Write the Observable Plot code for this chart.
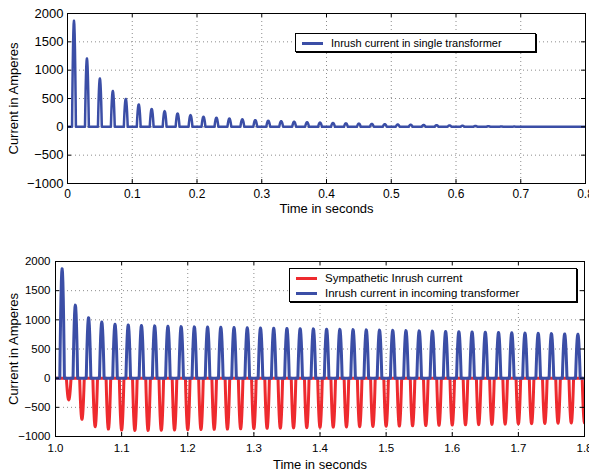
<!DOCTYPE html>
<html><head><meta charset="utf-8">
<script src="https://cdn.jsdelivr.net/npm/d3@7"></script>
<script src="https://cdn.jsdelivr.net/npm/@observablehq/plot@0.6"></script>
<style>
body{margin:0;background:#fff;font-family:"Liberation Sans",Arial,sans-serif;}
#wrap{position:relative;width:589px;height:476px;overflow:hidden;background:#fff;}
#top{position:absolute;left:0;top:0;}
#bot{position:absolute;left:0;top:248px;}
.legend{position:absolute;background:#fff;border:1px solid #000;box-shadow:1px 1px 0 #000;color:#000;box-sizing:border-box;}
.row{position:absolute;left:0;right:0;display:flex;align-items:center;height:14px;white-space:nowrap;}
.sw{display:inline-block;width:21px;height:3px;margin-left:6px;margin-right:8px;}
</style></head>
<body>
<div id="wrap">
  <div id="top"></div>
  <div id="bot"></div>
  <div class="legend" id="lg1" style="left:295px;top:33px;width:241px;height:19px;font-size:11px;">
    <div class="row" style="top:2px;"><span class="sw" style="background:#3b4ea6"></span><span>Inrush current in single transformer</span></div>
  </div>
  <div class="legend" id="lg2" style="left:289px;top:268px;width:288px;height:34px;font-size:11.5px;">
    <div class="row" style="top:2px;"><span class="sw" style="background:#ee2a2e"></span><span>Sympathetic Inrush current</span></div>
    <div class="row" style="top:17px;"><span class="sw" style="background:#3b4ea6"></span><span>Inrush current in incoming transformer</span></div>
  </div>
</div>
<script>
// ---------- data ----------
const blue = "#3b4ea6";
const red = "#ee2a2e";

// Top panel: peak time of each pulse (s) and peak current (A)
const topPeakTimes = [0.01,0.03,0.05,0.07,0.09,0.11,0.13,0.15,0.17,0.19,0.21,0.23,0.25,0.27,0.29,0.31,0.33,0.35,0.37,0.39,0.41,0.43,0.45,0.47,0.49,0.51,0.53,0.55,0.57,0.59,0.61,0.63,0.65,0.67,0.69,0.71,0.73,0.75,0.77,0.79];
const topPeaks = [1870,1205,852,632,492,395,315,276,236,206,178,160,146,132,118,107,99,90,82,75,68,62,57,52,47,42,37,33,29,25,20,16,12,8,5,3,2,0,0,0];

// Bottom panel: incoming transformer (blue) peaks
const blueTimes = [1.01,1.03,1.05,1.07,1.09,1.11,1.13,1.15,1.17,1.19,1.21,1.23,1.25,1.27,1.29,1.31,1.33,1.35,1.37,1.39,1.41,1.43,1.45,1.47,1.49,1.51,1.53,1.55,1.57,1.59,1.61,1.63,1.65,1.67,1.69,1.71,1.73,1.75,1.77,1.79];
const bluePeaks = [1876,1252,1037,963,924,912,902,896,890,884,880,876,872,868,864,860,856,852,848,845,840,836,832,828,824,820,815,811,806,801,797,792,788,783,778,773,768,763,758,752];

// Bottom panel: sympathetic inrush (red) troughs
const redTimes = [1.02,1.04,1.06,1.08,1.10,1.12,1.14,1.16,1.18,1.20,1.22,1.24,1.26,1.28,1.30,1.32,1.34,1.36,1.38,1.40,1.42,1.44,1.46,1.48,1.50,1.52,1.54,1.56,1.58,1.60,1.62,1.64,1.66,1.68,1.70,1.72,1.74,1.76,1.78,1.80];
const redTroughs = [-372,-705,-832,-872,-889,-895,-895,-892,-888,-884,-880,-876,-872,-868,-864,-860,-856,-852,-848,-844,-840,-836,-832,-828,-824,-820,-816,-812,-808,-804,-800,-796,-792,-788,-784,-780,-776,-772,-768,-764];

const topXTicks = [0,0.1,0.2,0.3,0.4,0.5,0.6,0.7,0.8];
const botXTicks = [1.0,1.1,1.2,1.3,1.4,1.5,1.6,1.7,1.8];
const yTicks = [-1000,-500,0,500,1000,1500,2000];

// ---------- waveform table built from the peaks ----------
function waveform(times, peaks, h, t0, t1) {
  const w = 2 * Math.PI * 50, c = Math.cos(w * h), N = 12;
  const rows = [{t: t0, i: 0}];
  times.forEach((tc, k) => {
    for (let j = 0; j <= N; j++) {
      const u = -h + 2 * h * j / N;
      rows.push({t: tc + u, i: peaks[k] * Math.max(0, (Math.cos(w * u) - c) / (1 - c))});
    }
  });
  rows.push({t: t1, i: 0});
  return rows;
}
const topData = waveform(topPeakTimes, topPeaks, 0.003, 0, 0.8);
const blueData = waveform(blueTimes, bluePeaks, 0.0035, 1.0, 1.8);
const redData = waveform(redTimes, redTroughs, 0.0035, 1.0, 1.81);

const yFmt = d => d < 0 ? "\u2212" + Math.abs(d) : String(d);

function panel({data, xDomain, xTicks, xFmt, height, mt, mb, ml, mr, tickFont, yFont, xPad, yPad, titleDy, titleDx}) {
  const fw = 589 - ml - mr, fh = height - mt - mb;
  const grid = {stroke: "#8c8c8c", strokeOpacity: 1, strokeDasharray: "1,3"};
  return Plot.plot({
    width: 589, height, marginTop: mt, marginBottom: mb, marginLeft: ml, marginRight: mr,
    style: {fontFamily: "Liberation Sans, Arial, sans-serif", color: "#000", background: "transparent", overflow: "visible"},
    x: {domain: xDomain},
    y: {domain: [-1000, 2000]},
    marks: [
      Plot.gridX(xTicks, grid),
      Plot.gridY(yTicks, grid),
      ...data.map(([rows, col, sw]) => Plot.line(rows, {x: "t", y: "i", stroke: col, strokeWidth: sw, clip: true, strokeLinejoin: "round"})),
      Plot.tickX(xTicks, {x: d => d, insetTop: fh - 4, stroke: "#000"}),
      Plot.tickX(xTicks, {x: d => d, insetBottom: fh - 4, stroke: "#000"}),
      Plot.tickY(yTicks, {y: d => d, insetRight: fw - 4, stroke: "#000"}),
      Plot.tickY(yTicks, {y: d => d, insetLeft: fw - 4, stroke: "#000"}),
      Plot.frame({stroke: "#000"}),
      Plot.axisX(xTicks, {tickSize: 0, tickPadding: xPad, tickFormat: xFmt, label: null, fontSize: tickFont}),
      Plot.axisY(yTicks, {tickSize: 0, tickPadding: yPad, tickFormat: yFmt, label: null, fontSize: yFont}),
      Plot.text(["Time in seconds"], {frameAnchor: "bottom", dy: titleDy, fontSize: 13, fill: "#000"}),
      Plot.text(["Current in Amperes"], {frameAnchor: "left", rotate: -90, textAnchor: "middle", dx: titleDx, fontSize: 13, fill: "#000"})
    ]
  });
}

document.getElementById("top").append(panel({
  data: [[topData, blue, 2.5]],
  xDomain: [0, 0.8], xTicks: topXTicks, xFmt: d => d === 0 ? "0" : d3.format(".1f")(d),
  height: 230, mt: 13, mb: 47, ml: 67, mr: 4, tickFont: 12, yFont: 13, xPad: 6, yPad: 4, titleDy: 29, titleDx: -54
}));
document.getElementById("bot").append(panel({
  data: [[redData, red, 3], [blueData, blue, 3]],
  xDomain: [1.0, 1.8], xTicks: botXTicks, xFmt: d3.format(".1f"),
  height: 228, mt: 13, mb: 40, ml: 55, mr: 5, tickFont: 11.5, yFont: 11.5, xPad: 7, yPad: 5, titleDy: 32, titleDx: -42
}));
</script>
</body></html>
